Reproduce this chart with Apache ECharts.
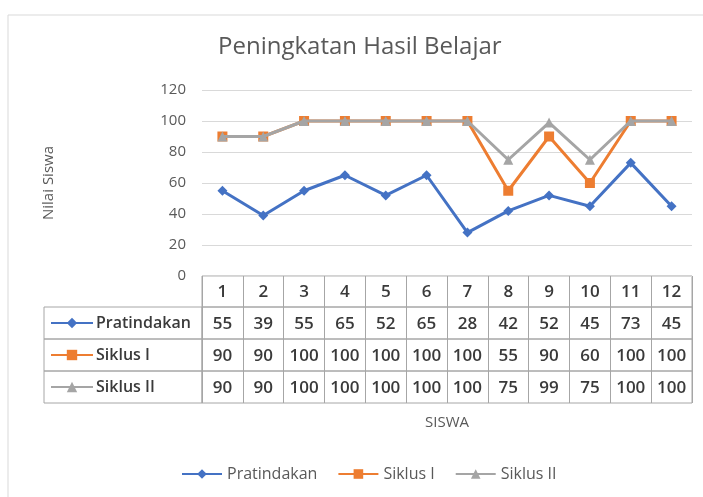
<!DOCTYPE html>
<html>
<head>
<meta charset="utf-8">
<script src="https://cdn.jsdelivr.net/npm/echarts@6/dist/echarts.min.js"></script>
<style>html,body{margin:0;padding:0;background:#fff;}#c{width:703px;height:497px;}</style>
</head>
<body>
<div id="c"></div>
<script>
var categories = ['1','2','3','4','5','6','7','8','9','10','11','12'];
var pratindakan = [55,39,55,65,52,65,28,42,52,45,73,45];
var siklus1 = [90,90,100,100,100,100,100,55,90,60,100,100];
var siklus2 = [90,90,100,100,100,100,100,75,99,75,100,100];
var yTicks = {min:0, max:120, interval:20};
var seriesNames = ['Pratindakan','Siklus I','Siklus II'];
var colors = ['#4472C4','#ED7D31','#A5A5A5'];
var rows = [pratindakan, siklus1, siklus2];

var FONT = 'Open Sans';
var border = '#a6a6a6';
var chart = echarts.init(document.getElementById('c'), null, {renderer:'canvas'});

var L = 202, W = 490;
var rowTops = [307, 339, 371], rowH = 32;

var grids = [
  {left:L, width:W, top:90, height:186},
  {left:L, width:W, top:276, height:31, show:true, borderColor:border, borderWidth:1, backgroundColor:'transparent'}
];
rowTops.forEach(function(t){
  grids.push({left:L, width:W, top:t, height:rowH, show:true, borderColor:border, borderWidth:1, backgroundColor:'transparent'});
});
rowTops.forEach(function(t){
  grids.push({left:44, width:L-44, top:t, height:rowH, show:true, borderColor:border, borderWidth:1, backgroundColor:'transparent'});
});

var xAxes = [{
  gridIndex:0, type:'category', data:categories, boundaryGap:true,
  axisLabel:{show:false}, axisTick:{show:false}, axisLine:{show:false}
}];
function tableAxis(gi, labels, extra){
  var ax = {
    gridIndex:gi, type:'category', data:categories, boundaryGap:true,
    axisTick:{show:false}, axisLine:{show:false},
    splitLine:{show:true, interval:0, lineStyle:{color:border, width:1}},
    axisLabel:{interval:0, margin:-15, verticalAlign:'middle', fontFamily:FONT, fontSize:17, fontWeight:600, color:'#3a3a3a',
      formatter:function(v, i){ return String(labels[i]); }}
  };
  for (var k in extra) ax[k] = extra[k];
  return ax;
}
xAxes.push(tableAxis(1, categories, {}));
xAxes.push(tableAxis(2, pratindakan, {}));
xAxes.push(tableAxis(3, siklus1, {}));
xAxes.push(tableAxis(4, siklus2, {name:'SISWA', nameLocation:'middle', nameGap:12,
  nameTextStyle:{fontFamily:FONT, fontSize:15, color:'#595959'}}));
for (var g=5; g<8; g++) xAxes.push({gridIndex:g, type:'category', show:false, data:['a']});

var yAxes = [{
  gridIndex:0, type:'value', min:yTicks.min, max:yTicks.max, interval:yTicks.interval,
  name:'Nilai Siswa', nameLocation:'middle', nameGap:146, nameRotate:90,
  nameTextStyle:{fontFamily:FONT, fontSize:15, color:'#595959'},
  axisLabel:{margin:16, fontFamily:FONT, fontSize:15, color:'#595959'},
  axisLine:{show:false}, axisTick:{show:false},
  splitLine:{lineStyle:{color:'#d9d9d9', width:1}}
}];
for (var g2=1; g2<8; g2++) yAxes.push({gridIndex:g2, type:'value', show:false, splitLine:{show:false}});

var symbols = ['diamond','rect','triangle'];
var symSizes = [10,10,10];
var series = seriesNames.map(function(n, i){
  return {
    name:n, type:'line', xAxisIndex:0, yAxisIndex:0, data:rows[i],
    symbol:symbols[i], symbolSize:symSizes[i], showAllSymbol:true,
    lineStyle:{color:colors[i], width:3}, itemStyle:{color:colors[i], borderWidth:0},
    color:colors[i], z:2+i
  };
});

var legends = [{
  data:seriesNames, bottom:10, left:176, itemGap:20, itemWidth:40, itemHeight:12,
  textStyle:{fontFamily:FONT, fontSize:16, color:'#595959'}, selectedMode:false
}];
seriesNames.forEach(function(n, i){
  legends.push({
    data:[n], left:50, top:rowTops[i]+8, itemWidth:42, itemHeight:13, itemGap:4, padding:0,
    textStyle:{fontFamily:FONT, fontSize:16, fontWeight:600, color:'#3a3a3a', padding:[0,0,0,-2]}, selectedMode:false
  });
});

chart.setOption({
  animation:false,
  backgroundColor:'#fff',
  title:{text:'Peningkatan Hasil Belajar', left:213, top:30,
    textStyle:{fontFamily:FONT, fontSize:24, fontWeight:'normal', color:'#595959'}},
  graphic:[{type:'rect', shape:{x:8, y:15, width:720, height:500},
    style:{fill:'none', stroke:'#d9d9d9', lineWidth:1}, silent:true}],
  grid:grids,
  xAxis:xAxes,
  yAxis:yAxes,
  legend:legends,
  series:series
});
</script>
</body>
</html>
